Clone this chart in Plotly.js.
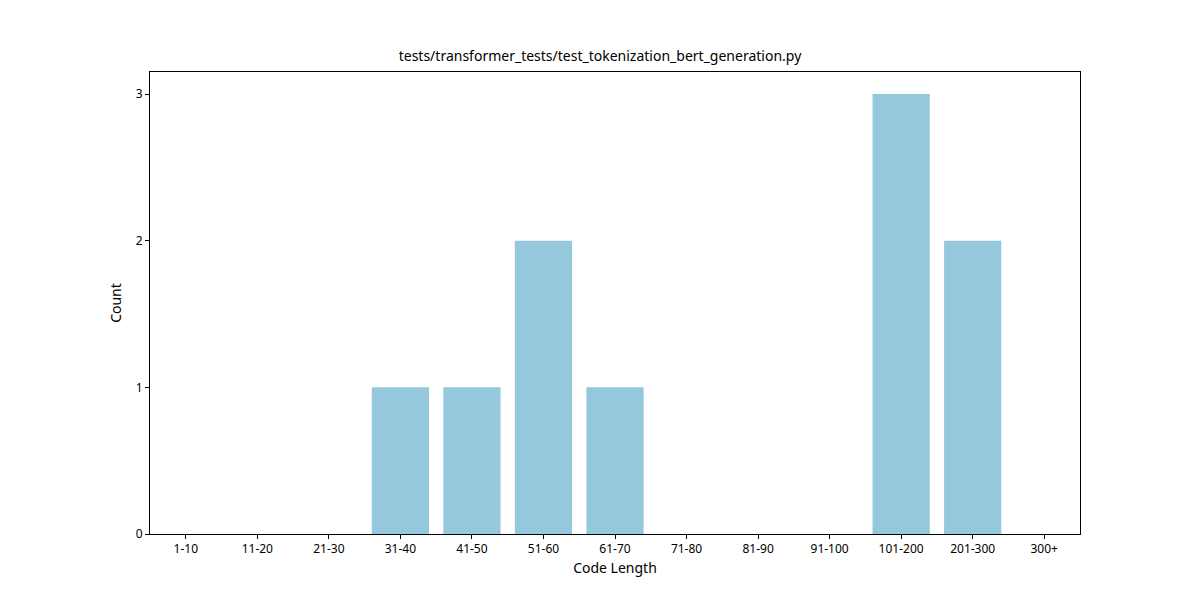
<!DOCTYPE html>
<html><head><script src="https://cdn.plot.ly/plotly-3.0.0.min.js"></script></head>
<body style="margin:0"><div id="c" style="width:1200px;height:600px"></div>
<script>
const categories = ["1-10","11-20","21-30","31-40","41-50","51-60","61-70","71-80","81-90","91-100","101-200","201-300","300+"];
const counts = [0,0,0,1,1,2,1,0,0,0,3,2,0];
const ax = {showline:true, mirror:true, linecolor:'#000', linewidth:1, ticks:'outside', ticklen:4, tickcolor:'#000', showgrid:false, zeroline:false};
Plotly.newPlot('c', [{type:'bar', x:categories.map((_,i)=>i), y:counts, width:0.8, marker:{color:'#95c8dc'}, hoverinfo:'none'}], {
  width:1200, height:600, paper_bgcolor:'#fff', plot_bgcolor:'#fff',
  font:{family:'Noto Sans, DejaVu Sans', size:12, color:'#000'},
  title:{text:'tests/transformer_tests/test_tokenization_bert_generation.py', x:0.5, xanchor:'center', y:0.915, font:{size:14}},
  margin:{l:150, r:120, t:72, b:66},
  xaxis:Object.assign({}, ax, {range:[-0.5,12.5], tickmode:'array', tickvals:categories.map((_,i)=>i), ticktext:categories, title:{text:'Code Length', standoff:6}}),
  yaxis:Object.assign({}, ax, {range:[0,3.15], tickvals:[0,1,2,3], title:{text:'Count', standoff:10}}),
  showlegend:false
}, {displayModeBar:false});
</script></body></html>
